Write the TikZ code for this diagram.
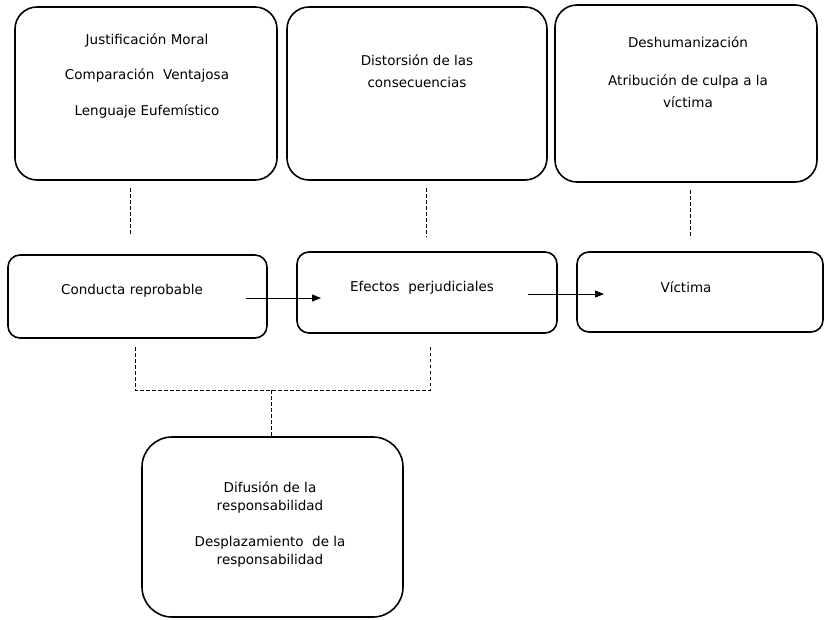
\documentclass[tikz,border=0pt]{standalone}
\usepackage{fontspec}
\setmainfont{DejaVu Sans}
\usetikzlibrary{arrows.meta}
\begin{document}
\begin{tikzpicture}[x=1pt,y=-1pt,
  bigbox/.style={draw, line width=1.6pt, rounded corners=22pt, inner sep=0pt},
  midbox/.style={draw, line width=1.6pt, rounded corners=12pt, inner sep=0pt},
  txt/.style={align=center, font=\fontsize{13.5}{22}\selectfont, inner sep=0pt},
  dashline/.style={line width=0.7pt, dash pattern=on 3.5pt off 2.5pt},
  flow/.style={line width=0.9pt, -{Triangle[length=9pt,width=7pt]}}]
\useasboundingbox (0,0) rectangle (826,619);
% top boxes
\node[bigbox, minimum width=262pt, minimum height=173pt] (b1) at (146,93.5) {};
\node[bigbox, minimum width=260pt, minimum height=173pt] (b2) at (417,93.5) {};
\node[bigbox, minimum width=262pt, minimum height=177pt] (b3) at (686,93.5) {};
\node[txt] (t1a) at (147,40) {Justificación Moral};
\node[txt] (t1b) at (147,76) {Comparación \ Ventajosa};
\node[txt] (t1c) at (147,111) {Lenguaje Eufemístico};
\node[txt] (t2) at (417,71) {Distorsión de las\\consecuencias};
\node[txt] (t3a) at (688,42) {Deshumanización};
\node[txt] (t3b) at (688,91) {Atribución de culpa a la\\víctima};
% middle boxes
\node[midbox, minimum width=259pt, minimum height=83pt] (m1) at (137.5,296.5) {};
\node[midbox, minimum width=260pt, minimum height=81pt] (m2) at (427,292.5) {};
\node[midbox, minimum width=246pt, minimum height=80pt] (m3) at (700,292) {};
\node[txt] (mt1) at (132,291) {Conducta reprobable};
\node[txt] (mt2) at (422,288) {Efectos \ perjudiciales};
\node[txt] (mt3) at (686,287) {Víctima};
% bottom box
\node[bigbox, rounded corners=30pt, minimum width=261pt, minimum height=180pt] (bb) at (272.5,527) {};
\node[txt] (bt) at (270,524) {Difusión de la\\[-4pt]responsabilidad\\[14pt]Desplazamiento \ de la\\[-4pt]responsabilidad};
% dashed connectors
\coordinate (d1a) at (130,188); \coordinate (d1b) at (130,236);
\coordinate (d2a) at (426,188); \coordinate (d2b) at (426,237);
\coordinate (d3a) at (690,190); \coordinate (d3b) at (690,238);
\draw[dashline] (d1a) -- (d1b);
\draw[dashline] (d2a) -- (d2b);
\draw[dashline] (d3a) -- (d3b);
\coordinate (j1) at (135,347); \coordinate (j2) at (430,345);
\coordinate (jm) at (271,390);
\draw[dashline] (j1) -- (135,390) -- (430,390) -- (j2);
\draw[dashline] (jm) -- (bb.north -| jm);
% arrows
\coordinate (a1s) at (246,298); \coordinate (a1e) at (321,298);
\coordinate (a2s) at (528,294); \coordinate (a2e) at (604,294);
\draw[flow] (a1s) -- (a1e);
\draw[flow] (a2s) -- (a2e);
\end{tikzpicture}
\end{document}
